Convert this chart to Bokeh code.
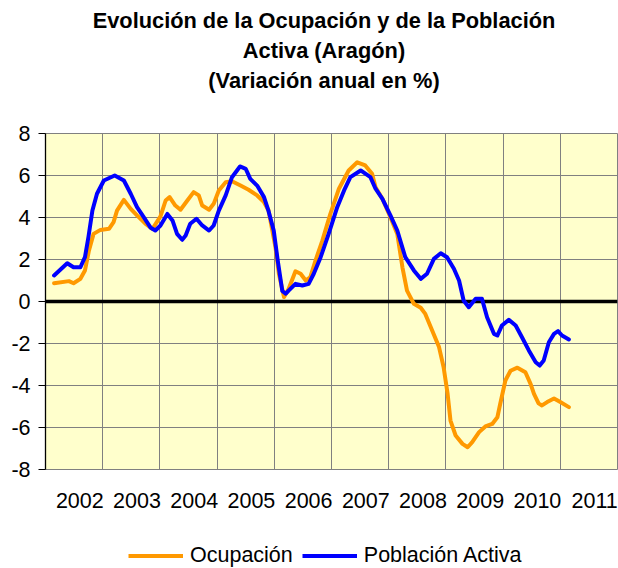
from bokeh.plotting import figure
from bokeh.layouts import column
from bokeh.models import (Range1d, FixedTicker, CustomJSTickFormatter, Span, Legend,
                          LegendItem, Title)
from bokeh.embed import file_html
from bokeh.resources import INLINE

# ---- data (decimal year, annual % change) ----
ocup_x = [2002.15, 2002.41, 2002.49, 2002.61, 2002.69, 2002.76, 2002.84, 2002.96, 2003.11,
          2003.19, 2003.25, 2003.37, 2003.49, 2003.60, 2003.75, 2003.87, 2004.01, 2004.10,
          2004.17, 2004.27, 2004.36, 2004.48, 2004.59, 2004.68, 2004.74, 2004.86, 2004.94,
          2005.03, 2005.15, 2005.26, 2005.41, 2005.55, 2005.70, 2005.82, 2005.90, 2006.02,
          2006.08, 2006.17, 2006.25, 2006.37, 2006.46, 2006.55, 2006.63, 2006.72, 2006.84,
          2006.98, 2007.13, 2007.30, 2007.45, 2007.59, 2007.71, 2007.77, 2007.89, 2008.03,
          2008.15, 2008.24, 2008.32, 2008.44, 2008.56, 2008.64, 2008.76, 2008.88, 2008.96,
          2009.03, 2009.08, 2009.17, 2009.29, 2009.38, 2009.46, 2009.58, 2009.69, 2009.81,
          2009.90, 2009.95, 2010.04, 2010.13, 2010.25, 2010.39, 2010.48, 2010.54, 2010.62,
          2010.68, 2010.77, 2010.89, 2011.00, 2011.15]
ocup_y = [0.87, 0.97, 0.87, 1.08, 1.48, 2.43, 3.22, 3.41, 3.46,
          3.78, 4.33, 4.84, 4.41, 4.10, 3.70, 3.46, 4.05, 4.81,
          4.97, 4.57, 4.37, 4.81, 5.21, 5.05, 4.57, 4.37, 4.65,
          5.29, 5.68, 5.73, 5.52, 5.32, 5.05, 4.73, 4.33, 2.59,
          1.32, 0.21, 0.60, 1.44, 1.32, 1.00, 1.16, 1.95, 2.90,
          4.17, 5.37, 6.24, 6.63, 6.48, 6.08, 5.44, 4.89, 4.01,
          3.22, 1.63, 0.52, -0.11, -0.30, -0.59, -1.38, -2.17, -3.13,
          -4.40, -5.67, -6.38, -6.78, -6.94, -6.70, -6.22, -5.95, -5.83,
          -5.51, -4.87, -3.76, -3.30, -3.15, -3.37, -3.92, -4.40, -4.85,
          -4.95, -4.79, -4.62, -4.79, -5.03]

act_x = [2002.15, 2002.38, 2002.49, 2002.61, 2002.69, 2002.75, 2002.82, 2002.90, 2003.02,
         2003.21, 2003.37, 2003.49, 2003.60, 2003.72, 2003.84, 2003.92, 2004.01, 2004.13,
         2004.22, 2004.30, 2004.39, 2004.45, 2004.53, 2004.64, 2004.74, 2004.86, 2004.94,
         2005.03, 2005.15, 2005.26, 2005.40, 2005.50, 2005.58, 2005.70, 2005.82, 2005.90,
         2005.99, 2006.06, 2006.14, 2006.20, 2006.25, 2006.37, 2006.49, 2006.60, 2006.69,
         2006.81, 2006.95, 2007.10, 2007.22, 2007.33, 2007.51, 2007.68, 2007.77, 2007.89,
         2008.03, 2008.15, 2008.29, 2008.44, 2008.56, 2008.67, 2008.79, 2008.91, 2009.02,
         2009.14, 2009.23, 2009.31, 2009.40, 2009.52, 2009.63, 2009.72, 2009.84, 2009.90,
         2009.98, 2010.10, 2010.22, 2010.33, 2010.45, 2010.57, 2010.64, 2010.71, 2010.80,
         2010.89, 2010.96, 2011.03, 2011.15]
act_y = [1.24, 1.82, 1.63, 1.63, 2.11, 3.06, 4.33, 5.13, 5.76,
         6.00, 5.76, 5.13, 4.49, 4.01, 3.51, 3.38, 3.62, 4.17,
         3.86, 3.22, 2.94, 3.14, 3.70, 3.94, 3.62, 3.38, 3.62,
         4.33, 5.05, 5.92, 6.43, 6.32, 5.84, 5.52, 4.97, 4.30,
         3.38, 1.95, 0.50, 0.37, 0.52, 0.84, 0.76, 0.84, 1.32,
         2.11, 3.22, 4.49, 5.29, 5.92, 6.24, 5.92, 5.37, 4.89,
         4.10, 3.38, 2.11, 1.48, 1.08, 1.32, 2.03, 2.30, 2.11,
         1.56, 1.00, 0.05, -0.27, 0.13, 0.13, -0.75, -1.54, -1.62,
         -1.14, -0.87, -1.14, -1.70, -2.33, -2.89, -3.05, -2.81, -1.94,
         -1.54, -1.41, -1.62, -1.81]

years = list(range(2002, 2012))
y_ticks = [-8, -6, -4, -2, 0, 2, 4, 6, 8]
title_lines = ["Evolución de la Ocupación y de la Población", "Activa (Aragón)",
               "(Variación anual en %)"]
series_names = ["Ocupación", "Población Activa"]
series_colors = ["#FF9900", "#0000FF"]

FONT = "Liberation Sans"
FS = "21.5px"

p = figure(width=618, height=520, output_backend="svg", toolbar_location=None,
           x_range=Range1d(years[0], years[-1] + 1), y_range=Range1d(y_ticks[0], y_ticks[-1]),
           min_border_left=45, min_border_right=1, min_border_top=133, min_border_bottom=51,
           background_fill_color="#FFFFCC", border_fill_color="white",
           outline_line_color="#808080", outline_line_width=1, title=None)

# titles (added bottom-up; the lowest one keeps extra room below it)
for txt, pad in zip(reversed(title_lines), [(0, 15, 0, 39), (0, 15, 0, 0), (0, 15, 0, 0)]):
    p.add_layout(Title(text=txt, align="center", text_font=FONT, text_font_size="21.8px",
                       text_font_style="bold", text_color="black", standoff=3, padding=pad),
                 "above")

# grids
p.xgrid.ticker = FixedTicker(ticks=[y for y in years] + [years[-1] + 1])
p.ygrid.ticker = FixedTicker(ticks=y_ticks)
for g in (p.xgrid, p.ygrid):
    g.grid_line_color = "#808080"
    g.grid_line_width = 1

zero = Span(location=0, dimension="width", line_color="black", line_width=3.5, level="underlay")
p.add_layout(zero)

# x axis: labels centred in each year interval
xa = p.xaxis[0]
xa.ticker = FixedTicker(ticks=[y + 0.6 for y in years])
xa.formatter = CustomJSTickFormatter(code="return Math.floor(tick).toString();")
xa.major_tick_line_color = None
xa.minor_tick_line_color = None
xa.major_tick_out = 0
xa.major_tick_in = 0
xa.axis_line_color = None
xa.major_label_standoff = 23
xa.major_label_text_font = FONT
xa.major_label_text_font_size = FS
xa.major_label_text_color = "black"

ya = p.yaxis[0]
ya.ticker = FixedTicker(ticks=y_ticks)
ya.formatter = CustomJSTickFormatter(code="return tick.toString();")
ya.axis_line_color = "black"
ya.axis_line_width = 1.3
ya.major_tick_line_color = "black"
ya.major_tick_out = 7
ya.major_tick_in = 0
ya.minor_tick_line_color = None
ya.major_label_standoff = 8
ya.major_label_text_font = FONT
ya.major_label_text_font_size = FS
ya.major_label_text_color = "black"

p.line(ocup_x, ocup_y, line_color=series_colors[0], line_width=4, line_join="round", line_cap="round")
p.line(act_x, act_y, line_color=series_colors[1], line_width=4, line_join="round", line_cap="round")

# legend strip below the chart (proxy renderers hold no visible points)
pl = figure(width=618, height=48, output_backend="svg", toolbar_location=None,
            min_border=0, x_axis_type=None, y_axis_type=None, outline_line_color=None,
            background_fill_color="white", border_fill_color="white")
proxies = [pl.line(x=[float("nan")], y=[float("nan")], line_color=c, line_width=4)
           for c in series_colors]
legend = Legend(items=[LegendItem(label=n, renderers=[r]) for n, r in zip(series_names, proxies)],
                orientation="horizontal", location=(83, 0), glyph_width=55, glyph_height=25,
                label_height=25, label_standoff=7, spacing=9, padding=0, margin=0,
                background_fill_alpha=0, border_line_color=None,
                label_text_font=FONT, label_text_font_size=FS, label_text_color="black")
pl.add_layout(legend)

open("out.html", "w").write(file_html(column(p, pl, spacing=0), INLINE))
